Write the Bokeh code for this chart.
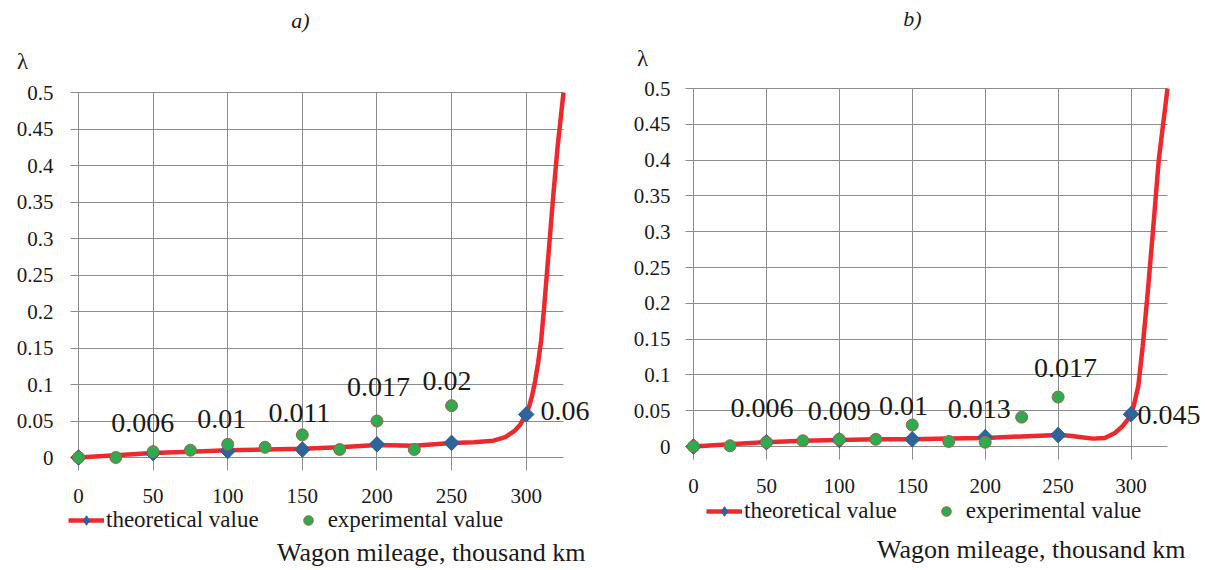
import math
from bokeh.plotting import figure
from bokeh.layouts import row
from bokeh.models import (ColumnDataSource, FixedTicker, Label, LabelSet, Legend,
                          LegendItem, Range1d)
from bokeh.embed import file_html
from bokeh.resources import INLINE

# ---------------- data ----------------
x_ticks = [0, 50, 100, 150, 200, 250, 300]
y_ticks = [0, 0.05, 0.1, 0.15, 0.2, 0.25, 0.3, 0.35, 0.4, 0.45, 0.5]
y_tick_labels = ["0", "0.05", "0.1", "0.15", "0.2", "0.25", "0.3", "0.35", "0.4", "0.45", "0.5"]

x_theory = [0, 50, 100, 150, 200, 250, 300]
x_exp = [0, 25, 50, 75, 100, 125, 150, 175, 200, 225, 250]

# panel a)
a_theory = [0, 0.006, 0.009, 0.011, 0.018, 0.020, 0.059]
a_exp = [0, 0, 0.008, 0.010, 0.018, 0.014, 0.031, 0.011, 0.050, 0.011, 0.071]
a_curve_x = [0, 25, 50, 75, 100, 125, 150, 175, 200, 225, 250, 265, 278, 286, 292, 296,
             300, 302, 304, 306, 308, 310, 312, 315, 318, 321, 325]
a_curve_y = [0, 0.003, 0.006, 0.008, 0.010, 0.011, 0.012, 0.014, 0.017, 0.016, 0.020,
             0.021, 0.023, 0.028, 0.036, 0.045, 0.060, 0.070, 0.085, 0.105, 0.130,
             0.160, 0.205, 0.280, 0.355, 0.425, 0.500]
a_labels = ["0.006", "0.01", "0.011", "0.017", "0.02", "0.06"]
a_label_x = [43, 96, 148, 201, 247, 326]
a_label_y = [0.047, 0.053, 0.061, 0.096, 0.105, 0.064]

# panel b)
b_theory = [0, 0.006, 0.009, 0.010, 0.013, 0.016, 0.045]
b_exp = [0, 0.001, 0.006, 0.008, 0.010, 0.010, 0.030, 0.007, 0.006, 0.041, 0.069]
b_curve_x = [0, 25, 50, 75, 100, 125, 150, 175, 200, 225, 250, 258, 266, 274, 282, 289,
             294, 298, 300, 302, 305, 308, 311, 315, 319, 322, 325]
b_curve_y = [0, 0.003, 0.006, 0.008, 0.009, 0.010, 0.010, 0.011, 0.012, 0.014, 0.016,
             0.015, 0.013, 0.011, 0.012, 0.019, 0.028, 0.038, 0.045, 0.058, 0.085,
             0.140, 0.205, 0.300, 0.400, 0.450, 0.500]
b_labels = ["0.006", "0.009", "0.01", "0.013", "0.017", "0.045"]
b_label_x = [47, 100, 144, 196, 255, 326]
b_label_y = [0.054, 0.050, 0.057, 0.053, 0.109, 0.044]

# ---------------- style ----------------
FONT = "'Liberation Serif', 'Times New Roman', serif"
TXT = "#1a1a1a"
GRID = "#8c8c8c"
RED = "#ec2a2e"
BLUE = "#30639a"
GREEN = "#2eaa4f"
GREEN_EDGE = "#a4604c"
H = 570


def make_panel(title, width, x0_px, x325_px, top_px, zero_px, grid_out,
               curve_x, curve_y, theory, exp, labels, label_x, label_y,
               lam_px, title_px, axis_title_px, legend_px, ylab_standoff, xlab_standoff):
    # local pixel geometry (frame == whole figure)
    sx = (x325_px - x0_px) / 325.0          # px per x unit
    sy = (zero_px - top_px) / 0.5           # px per y unit
    x_start = -x0_px / sx
    x_end = x_start + width / sx
    y_end = 0.5 + top_px / sy
    y_start = y_end - H / sy
    grid_left = -grid_out[0] / sx           # horizontal grid lines start a bit left of 0
    grid_low = -grid_out[1] / sy            # vertical grid lines run a bit below 0

    def dx(px):
        return (px - x0_px) / sx

    def dy(py):
        return (zero_px - py) / sy

    p = figure(width=width, height=H, output_backend="svg", toolbar_location=None,
               x_range=Range1d(x_start, x_end), y_range=Range1d(y_start, y_end),
               min_border=0, min_border_left=0, min_border_right=0,
               min_border_top=0, min_border_bottom=0)
    p.outline_line_color = None
    p.background_fill_color = "white"
    p.border_fill_color = "white"

    # grid
    p.xgrid.ticker = FixedTicker(ticks=x_ticks)
    p.ygrid.ticker = FixedTicker(ticks=y_ticks)
    p.xgrid.cross_bounds = (grid_low, 0.5)
    p.ygrid.cross_bounds = (grid_left, 325)
    for g in (p.xgrid, p.ygrid):
        g.grid_line_color = GRID
        g.grid_line_width = 1

    # axes (drawn at fixed data locations inside the figure)
    p.xaxis.ticker = FixedTicker(ticks=x_ticks)
    p.yaxis.ticker = FixedTicker(ticks=y_ticks)
    p.xaxis.fixed_location = grid_low
    p.yaxis.fixed_location = grid_left
    p.yaxis.major_label_overrides = {t: l for t, l in zip(y_ticks, y_tick_labels)}
    for ax in (p.xaxis, p.yaxis):
        ax.axis_line_color = None
        ax.major_tick_line_color = None
        ax.minor_tick_line_color = None
        ax.major_label_text_font = FONT
        ax.major_label_text_font_size = "21px"
        ax.major_label_text_color = TXT
    p.xaxis.major_label_standoff = xlab_standoff
    p.yaxis.major_label_standoff = ylab_standoff

    # series
    curve = p.line(curve_x, curve_y, line_color=RED, line_width=4.5)
    # narrow diamond underneath (used as the legend swatch), covered by the square diamond
    diam_key = p.scatter(x_theory, theory, marker="diamond", size=15,
                         fill_color=BLUE, line_color=BLUE)
    p.scatter(x_theory, theory, marker="square", size=11, angle=math.pi / 4,
              fill_color=BLUE, line_color=BLUE)
    circ = p.scatter(x_exp, exp, marker="circle", size=12, fill_color=GREEN,
                     line_color=GREEN_EDGE, line_width=1)

    # value labels
    src = ColumnDataSource(dict(x=label_x, y=label_y, t=labels))
    p.add_layout(LabelSet(x="x", y="y", text="t", source=src, text_align="center",
                          text_baseline="middle", text_font=FONT, text_font_size="28px",
                          text_color=TXT))

    p.add_layout(Label(x=dx(title_px[0]), y=dy(title_px[1]), text=title, text_align="center",
                       text_baseline="middle", text_font=FONT, text_font_size="22px",
                       text_font_style="italic", text_color=TXT))
    p.add_layout(Label(x=dx(lam_px[0]), y=dy(lam_px[1]), text="λ", text_align="center",
                       text_baseline="middle", text_font=FONT, text_font_size="23px",
                       text_color=TXT))
    p.add_layout(Label(x=dx(axis_title_px[0]), y=dy(axis_title_px[1]),
                       text="Wagon mileage, thousand km", text_align="right",
                       text_baseline="middle", text_font=FONT, text_font_size="26px",
                       text_color=TXT))

    legend = Legend(items=[LegendItem(label="theoretical value", renderers=[curve, diam_key]),
                           LegendItem(label="experimental value", renderers=[circ])],
                    orientation="horizontal",
                    location=(legend_px[0], H - legend_px[1] - 12),
                    padding=0, margin=0, spacing=31, glyph_width=36, glyph_height=24,
                    label_height=24, label_standoff=2,
                    label_text_font=FONT, label_text_font_size="23px",
                    label_text_color=TXT, border_line_alpha=0, background_fill_alpha=0)
    p.add_layout(legend, "center")
    return p


pa = make_panel("a)", 600, x0_px=78, x325_px=563, top_px=92, zero_px=457, grid_out=(8, 13),
                curve_x=a_curve_x, curve_y=a_curve_y, theory=a_theory, exp=a_exp,
                labels=a_labels, label_x=a_label_x, label_y=a_label_y,
                lam_px=(22, 61), title_px=(300, 20), axis_title_px=(585, 552),
                legend_px=(68, 521), ylab_standoff=11, xlab_standoff=12)
pb = make_panel("b)", 605, x0_px=93, x325_px=567, top_px=88, zero_px=446, grid_out=(8, 13),
                curve_x=b_curve_x, curve_y=b_curve_y, theory=b_theory, exp=b_exp,
                labels=b_labels, label_x=b_label_x, label_y=b_label_y,
                lam_px=(42, 58), title_px=(312, 18), axis_title_px=(585, 549),
                legend_px=(106, 512), ylab_standoff=9, xlab_standoff=13)

layout = row(pa, pb, spacing=0)
open("out.html", "w").write(file_html(layout, INLINE))
